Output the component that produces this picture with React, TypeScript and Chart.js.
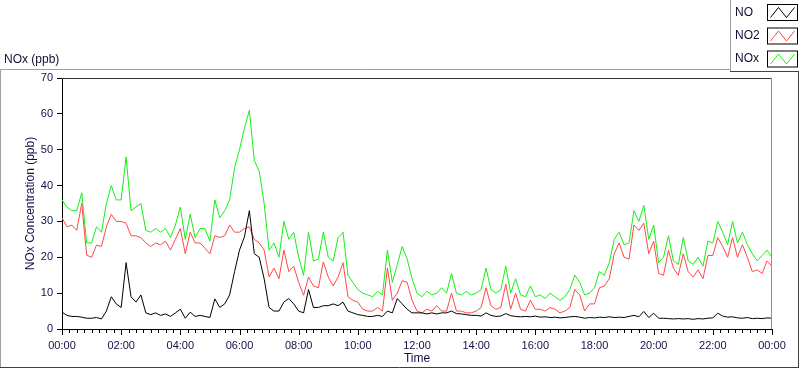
import React, { useEffect, useRef } from "react";
import { Chart, registerables } from "chart.js";

Chart.register(...registerables);

// sampling step of the series (minutes)
const STEP_MIN = 10;

// NO (ppb), 10-minute values 00:00 .. 24:00
const NO = [
  4.7, 3.8, 3.5, 3.5, 3.3, 3,
  3, 3.2, 2.8, 5, 9, 7,
  6, 18.5, 9, 7.5, 9.5, 4.5,
  4, 4.5, 3.8, 4.2, 3.5, 4.5,
  5.5, 3, 4.7, 3.5, 3.8, 3.5,
  3.2, 8.4, 6, 7, 9.5, 16,
  22, 25.7, 33, 21, 20, 14,
  6, 5, 5, 7.5, 8.5, 7,
  5, 4.5, 11, 6, 6, 6.5,
  6.5, 7, 6.5, 7.5, 5, 4.5,
  4, 3.8, 3.5, 3.5, 3.8, 3.5,
  5, 4.5, 8.5, 7, 5.5, 4.5,
  4.5, 4.5, 4.2, 4.5, 4.2, 4.5,
  4.5, 5, 4.3, 4.2, 4, 3.8,
  3.8, 3.6, 4.5, 3.8, 3.5, 3.6,
  4.3, 3.7, 3.5, 3.4, 3.5, 3.4,
  3.6, 3.3, 3.4, 3.2, 3.3, 3.1,
  3.2, 3.4, 3.5, 3.3, 3.0, 3.2,
  3.1, 3.3, 3.2, 3.4, 3.2, 3.3,
  3.2, 3.5, 3.8, 3.4, 4.9, 3.2,
  4.4, 3.0, 3.0, 2.9, 2.8, 2.9,
  2.8, 2.9, 2.7, 2.9, 2.8, 3.0,
  3.1, 4.4, 3.6, 3.3, 3.4, 3.1,
  3.0, 3.2, 2.9, 3.0, 2.9, 3.1,
  3.0,
];

// NO2 (ppb)
const NO2 = [
  31, 28.5, 29, 27.5, 35, 20.6,
  20, 23.4, 23, 28.5, 32, 30,
  30, 29.5, 26, 26, 25.5, 24,
  23, 24, 23.5, 24.5, 22, 25,
  28, 21, 27, 24, 24, 22.5,
  21, 26, 25.5, 26, 29, 27,
  27, 28, 28.5, 25, 24, 22,
  14.5, 17, 14, 22, 16, 17.5,
  13, 9.4, 14.5, 12, 11.5, 18.7,
  14.5, 12, 14.5, 18.5, 9, 8,
  7.5, 5.5, 5, 5, 6, 5,
  17, 8, 10, 13.5, 13, 8,
  5, 4.5, 5.5, 5, 6.5, 5,
  5, 10, 5, 5, 4.5, 4.5,
  5, 6, 11.5, 6.5, 5.5, 6,
  12.5, 5.5, 10, 5.5, 5, 8,
  5.5, 5.5, 5, 6, 5.5, 4.5,
  5, 6, 11, 9.5, 5, 7,
  7, 11.5, 12, 14, 21, 24,
  20, 19.5, 29, 27.5, 29.5, 21,
  24.5, 15.5, 15, 22, 17, 15,
  21, 16, 14.5, 16.5, 14, 20.5,
  20.5, 25.5, 23, 20, 25.5, 20,
  23.5, 20, 16, 16.5, 15.5, 19,
  17.5,
];

// NOx (ppb)
const NOX = [
  36, 34, 33, 33, 38, 24,
  24, 28.5, 27, 35, 40, 36,
  36, 48, 33, 34, 35, 27.5,
  27, 28, 27, 28, 25.5, 29,
  34, 25, 32, 25.5, 28, 28,
  24.5, 36, 31, 33, 36, 45,
  50, 56, 61, 47, 44, 35,
  22, 24, 20, 30, 25, 27,
  20, 15, 27, 19, 19.5, 27,
  20, 19, 25.5, 27, 15, 13,
  11, 10, 9.5, 9, 10.5, 9.5,
  22, 13, 18, 23, 19.5, 14,
  10, 9, 10.5, 9.5, 10, 11.5,
  10, 15.5, 10, 9.5, 10.5, 9.5,
  10, 11, 17, 11, 10, 11,
  17.5, 10, 14, 9.5, 9, 12,
  9, 9.5, 8.5, 10, 9, 8,
  9, 11, 15, 13, 9.5, 10,
  11.5, 16, 15, 18.5, 25, 27,
  23.5, 24, 33, 30, 34.5, 25,
  29, 18.5, 20, 26, 19, 18,
  25.5, 19, 18, 20, 17.5, 24.5,
  24, 30, 27, 23.5, 30, 24,
  27, 23.5, 21, 19, 20.5, 22,
  20,
];

const X_TICK_LABELS = [
  "00:00", "02:00", "04:00", "06:00", "08:00", "10:00", "12:00",
  "14:00", "16:00", "18:00", "20:00", "22:00", "00:00",
];
const Y_TICKS = [0, 10, 20, 30, 40, 50, 60, 70];

const SERIES_NAMES = ["NO", "NO2", "NOx"];
const SERIES_COLORS = ["#000000", "#ff4848", "#14f014"];

const FONT = "'Liberation Sans', Arial, sans-serif";
const LABEL_COLOR = "#10104a";

const toPoints = (arr: number[]) => arr.map((v, i) => ({ x: i * STEP_MIN, y: v }));

const chromePlugin = {
  id: "chrome",
  beforeDraw(chart: any) {
    const ctx = chart.ctx as CanvasRenderingContext2D;
    ctx.save();
    ctx.fillStyle = "#ffffff";
    ctx.fillRect(0, 0, chart.width, chart.height);
    ctx.lineWidth = 1;
    const ln = (x1: number, y1: number, x2: number, y2: number, c: string) => {
      ctx.strokeStyle = c;
      ctx.beginPath();
      ctx.moveTo(x1, y1);
      ctx.lineTo(x2, y2);
      ctx.stroke();
    };
    // outer panel frame
    ln(0.5, 69.5, 730, 69.5, "#a0a0a0");
    ln(0.5, 69.5, 0.5, 368, "#a0a0a0");
    ln(0, 367.5, 799, 367.5, "#404040");
    ln(798.5, 71, 798.5, 368, "#404040");
    ctx.restore();
  },
  afterDraw(chart: any) {
    const ctx = chart.ctx as CanvasRenderingContext2D;
    const area = chart.chartArea;
    const xs = chart.scales.x;
    ctx.save();
    ctx.lineWidth = 1;
    const ln = (x1: number, y1: number, x2: number, y2: number, c: string) => {
      ctx.strokeStyle = c;
      ctx.beginPath();
      ctx.moveTo(x1, y1);
      ctx.lineTo(x2, y2);
      ctx.stroke();
    };
    // plot top / right border
    ln(area.left, area.top + 0.5, area.right, area.top + 0.5, "#303030");
    ln(area.right - 0.5, area.top, area.right - 0.5, area.bottom, "#909090");

    // x ticks: major every 2h, minor every 15 min
    for (let m = 0; m <= 1440; m += 15) {
      const px = Math.round(xs.getPixelForValue(m)) + 0.5;
      const major = m % 120 === 0;
      ln(px, area.bottom, px, area.bottom + (major ? 6 : 4), "#000000");
    }

    // titles
    ctx.font = `12px ${FONT}`;
    ctx.textBaseline = "middle";
    ctx.textAlign = "left";
    ctx.fillStyle = "#101030";
    ctx.fillText("NOx (ppb)", 4, 60);
    ctx.fillStyle = LABEL_COLOR;
    ctx.textAlign = "center";
    ctx.fillText("Time", (area.left + area.right) / 2, 359);
    ctx.save();
    ctx.translate(31, (area.top + area.bottom) / 2);
    ctx.rotate(-Math.PI / 2);
    ctx.fillText("NOx Concentration (ppb)", 0, 0);
    ctx.restore();

    // legend box
    ctx.fillStyle = "#ffffff";
    ctx.fillRect(731, 0, 69, 71);
    ln(730.5, 0, 730.5, 72, "#a0a0a0");
    ln(730, 71.5, 799, 71.5, "#404040");
    const rows = [4, 27.5, 50.5];
    SERIES_NAMES.forEach((name, i) => {
      const top = rows[i];
      ctx.fillStyle = "#101030";
      ctx.font = `12px ${FONT}`;
      ctx.textAlign = "left";
      ctx.textBaseline = "middle";
      ctx.fillText(name, 735, top + 8.5);
      const bx = 767.5, by = top + 0.5, bw = 30, bh = 16;
      ctx.strokeStyle = "#000000";
      ctx.strokeRect(bx, by, bw, bh);
      ctx.strokeStyle = SERIES_COLORS[i];
      ctx.beginPath();
      ctx.moveTo(bx + 3, by + 13);
      ctx.lineTo(bx + 11, by + 3);
      ctx.lineTo(bx + 19, by + 13);
      ctx.lineTo(bx + 27, by + 3);
      ctx.stroke();
    });
    ctx.restore();
  },
};

export default function App() {
  const ref = useRef<HTMLCanvasElement | null>(null);
  useEffect(() => {
    if (!ref.current) return;
    const chart = new Chart(ref.current, {
      type: "line",
      data: {
        datasets: [
          { label: SERIES_NAMES[0], data: toPoints(NO), borderColor: SERIES_COLORS[0], order: 1 },
          { label: SERIES_NAMES[1], data: toPoints(NO2), borderColor: SERIES_COLORS[1], order: 2 },
          { label: SERIES_NAMES[2], data: toPoints(NOX), borderColor: SERIES_COLORS[2], order: 3 },
        ].map((d) => ({ ...d, borderWidth: 1, pointRadius: 0, tension: 0, fill: false })),
      },
      options: {
        animation: false,
        responsive: false,
        devicePixelRatio: 1,
        layout: { padding: { left: 0, right: 28, top: 78, bottom: 0 } },
        plugins: { legend: { display: false }, tooltip: { enabled: false } },
        scales: {
          x: {
            type: "linear",
            min: 0,
            max: 1440,
            afterFit: (s: any) => { s.height = 40; },
            afterBuildTicks: (s: any) => {
              s.ticks = X_TICK_LABELS.map((_, i) => ({ value: i * 120 }));
            },
            ticks: {
              autoSkip: false,
              maxRotation: 0,
              padding: 2,
              color: LABEL_COLOR,
              font: { family: FONT, size: 11 },
              callback: (v: any) => X_TICK_LABELS[Math.round(Number(v) / 120)],
            },
            grid: { display: false },
            border: { display: true, color: "#000000" },
          },
          y: {
            min: 0,
            max: 70,
            afterFit: (s: any) => { s.width = 62; },
            afterBuildTicks: (s: any) => {
              s.ticks = Y_TICKS.map((v) => ({ value: v }));
            },
            ticks: {
              padding: 4,
              color: LABEL_COLOR,
              font: { family: FONT, size: 11 },
              callback: (v: any) => String(v),
            },
            grid: { display: true, drawOnChartArea: false, drawTicks: true, tickLength: 5, color: "#000000" },
            border: { display: true, color: "#000000" },
          },
        },
      },
      plugins: [chromePlugin],
    });
    return () => chart.destroy();
  }, []);
  return (
    <div style={{ position: "absolute", left: 0, top: 0, width: 800, height: 369 }}>
      <canvas ref={ref} width={800} height={369} style={{ display: "block", width: 800, height: 369 }} />
    </div>
  );
}
